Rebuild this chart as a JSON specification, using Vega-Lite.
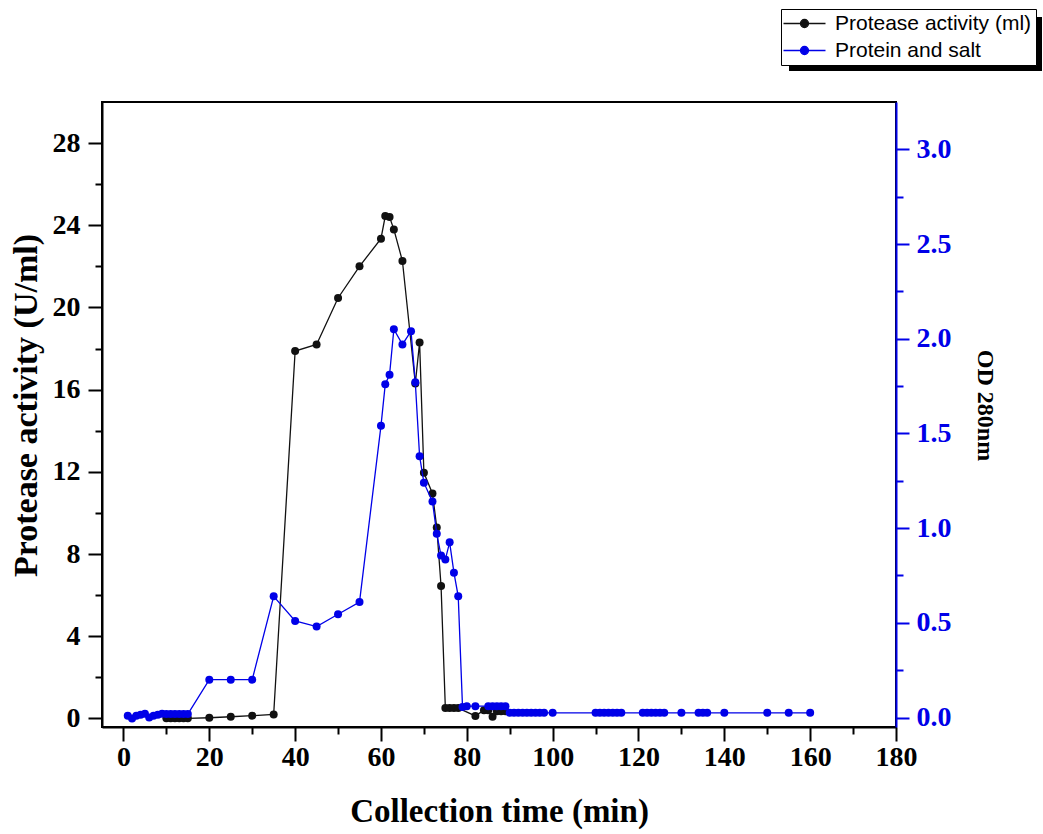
{
  "$schema": "https://vega.github.io/schema/vega-lite/v6.json",
  "width": 794,
  "height": 625,
  "autosize": "none",
  "padding": {"left": 102, "top": 102, "right": 147, "bottom": 107},
  "background": "white",
  "config": {
    "view": {"stroke": "black", "strokeWidth": 2},
    "axis": {
      "labelFont": "Liberation Serif",
      "labelFontWeight": "bold",
      "labelFontSize": 28,
      "labelColor": "black",
      "titleFont": "Liberation Serif",
      "titleFontWeight": "bold",
      "titleColor": "black",
      "grid": false,
      "tickWidth": 2,
      "tickColor": "black",
      "domainWidth": 2,
      "domainColor": "black",
      "labelFlush": false,
      "labelOverlap": false,
      "zindex": 1
    }
  },
  "datasets": {
    "activity": [
      {"t": 10, "v": 0}, {"t": 11, "v": 0}, {"t": 12, "v": 0}, {"t": 13, "v": 0}, {"t": 14, "v": 0}, {"t": 15, "v": 0},
      {"t": 20, "v": 0.03}, {"t": 25, "v": 0.08}, {"t": 30, "v": 0.13}, {"t": 35, "v": 0.19},
      {"t": 40, "v": 17.88}, {"t": 45, "v": 18.2}, {"t": 50, "v": 20.46}, {"t": 55, "v": 22.0},
      {"t": 60, "v": 23.35}, {"t": 61, "v": 24.45}, {"t": 62, "v": 24.4}, {"t": 63, "v": 23.8},
      {"t": 65, "v": 22.26}, {"t": 68, "v": 16.3}, {"t": 69, "v": 18.3}, {"t": 70, "v": 11.95},
      {"t": 72, "v": 10.95}, {"t": 73, "v": 9.29}, {"t": 74, "v": 6.44},
      {"t": 75, "v": 0.5}, {"t": 76, "v": 0.5}, {"t": 77, "v": 0.5}, {"t": 78, "v": 0.5},
      {"t": 82, "v": 0.12}, {"t": 84, "v": 0.4}, {"t": 85, "v": 0.4}, {"t": 86, "v": 0.08},
      {"t": 87, "v": 0.35}, {"t": 88, "v": 0.35}, {"t": 89, "v": 0.35}
    ],
    "protein": [
      {"t": 1, "v": 0.01}, {"t": 2, "v": -0.005}, {"t": 3, "v": 0.01}, {"t": 4, "v": 0.015}, {"t": 5, "v": 0.02},
      {"t": 6, "v": 0.0}, {"t": 7, "v": 0.01}, {"t": 8, "v": 0.015}, {"t": 9, "v": 0.02}, {"t": 10, "v": 0.018},
      {"t": 11, "v": 0.018}, {"t": 12, "v": 0.018}, {"t": 13, "v": 0.018}, {"t": 14, "v": 0.018}, {"t": 15, "v": 0.018},
      {"t": 20, "v": 0.2}, {"t": 25, "v": 0.2}, {"t": 30, "v": 0.2}, {"t": 35, "v": 0.64},
      {"t": 40, "v": 0.51}, {"t": 45, "v": 0.48}, {"t": 50, "v": 0.545}, {"t": 55, "v": 0.61},
      {"t": 60, "v": 1.54}, {"t": 61, "v": 1.76}, {"t": 62, "v": 1.81}, {"t": 63, "v": 2.05},
      {"t": 65, "v": 1.97}, {"t": 67, "v": 2.04}, {"t": 68, "v": 1.77}, {"t": 69, "v": 1.38},
      {"t": 70, "v": 1.24}, {"t": 72, "v": 1.14}, {"t": 73, "v": 0.97}, {"t": 74, "v": 0.855},
      {"t": 75, "v": 0.835}, {"t": 76, "v": 0.925}, {"t": 77, "v": 0.765}, {"t": 78, "v": 0.64},
      {"t": 79, "v": 0.055}, {"t": 80, "v": 0.06}, {"t": 82, "v": 0.06}, {"t": 85, "v": 0.06},
      {"t": 86, "v": 0.06}, {"t": 87, "v": 0.06}, {"t": 88, "v": 0.06}, {"t": 89, "v": 0.06},
      {"t": 90, "v": 0.025}, {"t": 91, "v": 0.025}, {"t": 92, "v": 0.025}, {"t": 93, "v": 0.025},
      {"t": 94, "v": 0.025}, {"t": 95, "v": 0.025}, {"t": 96, "v": 0.025}, {"t": 97, "v": 0.025},
      {"t": 98, "v": 0.025}, {"t": 100, "v": 0.025},
      {"t": 110, "v": 0.025}, {"t": 111, "v": 0.025}, {"t": 112, "v": 0.025}, {"t": 113, "v": 0.025},
      {"t": 114, "v": 0.025}, {"t": 115, "v": 0.025}, {"t": 116, "v": 0.025},
      {"t": 121, "v": 0.025}, {"t": 122, "v": 0.025}, {"t": 123, "v": 0.025}, {"t": 124, "v": 0.025},
      {"t": 125, "v": 0.025}, {"t": 126, "v": 0.025},
      {"t": 130, "v": 0.025}, {"t": 134, "v": 0.025}, {"t": 135, "v": 0.025}, {"t": 136, "v": 0.025},
      {"t": 140, "v": 0.025}, {"t": 150, "v": 0.025}, {"t": 155, "v": 0.025}, {"t": 160, "v": 0.025}
    ]
  },
  "layer": [
    {
      "data": {"values": [{"t": 0, "v": 0}, {"t": 0, "v": 1}]},
      "mark": {"type": "point", "opacity": 0},
      "encoding": {
        "x": {"field": "t", "type": "quantitative", "scale": {"domain": [-5, 180], "nice": false, "zero": false},
          "axis": {"orient": "bottom", "values": [10, 30, 50, 70, 90, 110, 130, 150, 170], "labels": false, "domain": false, "tickSize": 7, "title": null}},
        "y": {"field": "v", "type": "quantitative", "scale": {"domain": [-0.42, 30], "nice": false, "zero": false},
          "axis": {"orient": "left", "values": [2, 6, 10, 14, 18, 22, 26], "labels": false, "domain": false, "tickSize": 7, "title": null}},
        "fill": {"field": "v", "type": "quantitative",
          "scale": {"domain": [0, 1], "range": ["black", "black"]},
          "legend": {"type": "gradient", "direction": "horizontal", "orient": "none", "legendX": 687, "legendY": -85,
            "title": null, "gradientLength": 253, "gradientThickness": 54, "gradientStrokeWidth": 0,
            "labelExpr": "''", "padding": 0, "zindex": 0}}
      }
    },
    {
      "data": {"name": "protein"},
      "mark": {"type": "point", "opacity": 0},
      "encoding": {
        "x": {"field": "t", "type": "quantitative", "scale": {"domain": [-5, 180], "nice": false, "zero": false}, "axis": null},
        "y": {"field": "v", "type": "quantitative", "scale": {"domain": [-0.05, 3.25], "nice": false, "zero": false},
          "axis": {"orient": "right", "values": [0.25, 0.75, 1.25, 1.75, 2.25, 2.75], "labels": false, "domain": false, "tickSize": 7, "tickColor": "#0000e8", "title": null}}
      }
    },
    {
      "data": {"name": "activity"},
      "mark": {"type": "line", "strokeWidth": 1.3, "point": {"filled": true, "size": 64}},
      "encoding": {
        "x": {"field": "t", "type": "quantitative", "scale": {"domain": [-5, 180], "nice": false, "zero": false},
          "axis": {"orient": "bottom", "values": [0, 20, 40, 60, 80, 100, 120, 140, 160, 180], "tickSize": 14, "labelPadding": 2,
            "title": "Collection time (min)", "titleFontSize": 33, "titlePadding": 24}},
        "y": {"field": "v", "type": "quantitative", "scale": {"domain": [-0.42, 30], "nice": false, "zero": false},
          "axis": {"orient": "left", "values": [0, 4, 8, 12, 16, 20, 24, 28], "tickSize": 14, "labelPadding": 8,
            "title": "Protease activity (U/ml)", "titleFontSize": 34, "titlePadding": 9, "titleY": 303}},
        "color": {"datum": "Protease activity (ml)", "type": "nominal",
          "scale": {"domain": ["Protease activity (ml)", "Protein and salt"], "range": ["#111111", "#0000e8"]},
          "legend": {"orient": "none", "legendX": 679, "legendY": -93, "title": null, "fillColor": "white", "strokeColor": "black",
            "labelColor": "black", "labelFont": "Liberation Sans", "labelFontSize": 21, "labelLimit": 400,
            "symbolType": "M-3,0H7.5M1.25,0A1,1 0 1,0 3.25,0A1,1 0 1,0 1.25,0Z",
            "symbolSize": 64, "symbolStrokeWidth": 1.3, "padding": 4, "rowPadding": 5, "labelOffset": 29, "zindex": 1,
            "encode": {"symbols": {"update": {"fill": {"scale": "color", "field": "value"}, "stroke": {"scale": "color", "field": "value"}, "opacity": {"value": 1}}}}}}
      }
    },
    {
      "data": {"name": "protein"},
      "mark": {"type": "line", "strokeWidth": 1.3, "point": {"filled": true, "size": 64}},
      "encoding": {
        "x": {"field": "t", "type": "quantitative", "scale": {"domain": [-5, 180], "nice": false, "zero": false}, "axis": null},
        "y": {"field": "v", "type": "quantitative", "scale": {"domain": [-0.05, 3.25], "nice": false, "zero": false},
          "axis": {"orient": "right", "values": [0, 0.5, 1, 1.5, 2, 2.5, 3], "format": ".1f", "tickSize": 13, "labelPadding": 7,
            "tickColor": "#0000e8", "domainColor": "#0000e8", "labelColor": "#0000e8",
            "title": "OD 280nm", "titleFontSize": 24, "titlePadding": 21, "titleY": 303}},
        "color": {"datum": "Protein and salt", "type": "nominal"}
      }
    }
  ],
  "resolve": {"scale": {"y": "independent"}, "axis": {"x": "independent", "y": "independent"}}
}
